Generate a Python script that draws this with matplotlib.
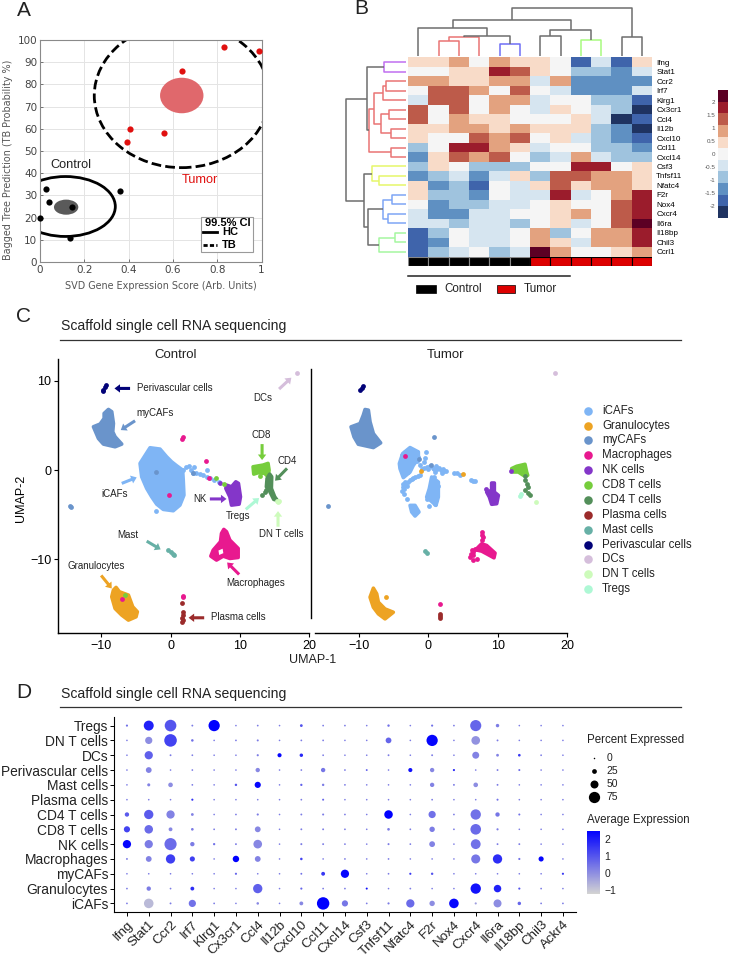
import numpy as np
import matplotlib
matplotlib.use("Agg")
import matplotlib.pyplot as plt
from matplotlib.colors import ListedColormap, BoundaryNorm, LinearSegmentedColormap
from matplotlib.patches import Ellipse, FancyArrowPatch, Rectangle

plt.rcParams["font.family"] = ["Liberation Sans", "DejaVu Sans"]

W, H = 729, 957

# ---- panel A
ctrl_x = [0, 0.025, 0.04, 0.145, 0.135, 0.362]
ctrl_y = [20, 33, 27, 25, 11, 32]
tumor_x = [0.395, 0.405, 0.56, 0.64, 0.83, 0.99]
tumor_y = [54, 60, 58, 86, 97, 95]

# ---- panel B
heat_genes = ["Ifng", "Stat1", "Ccr2", "Irf7", "Klrg1", "Cx3cr1", "Ccl4", "Il12b", "Cxcl10", "Ccl11", "Cxcl14",
              "Csf3", "Tnfsf11", "Nfatc4", "F2r", "Nox4", "Cxcr4", "Il6ra", "Il18bp", "Chil3", "Ccrl1"]
heat_vals = [
    [1, 1, 2, 0, 2, 1, 1, 0, -4, -1, -4, 1],
    [0, 0, 1, 1, 4, 3, 1, 0, -2, -2, -3, -1],
    [2, 2, 1, 1, 2, 2, -1, 2, -3, -3, -3, -3],
    [0, 3, 3, 2, 0, 3, 0, -1, -3, -3, -3, -1],
    [-1, 3, 3, 0, 2, 2, -1, 0, 0, -2, -2, -4],
    [3, 0, 3, 0, 2, 0, -1, 1, 0, -1, -2, -5],
    [3, 0, 2, 1, 1, 0, 0, 0, 1, -1, -5, -4],
    [1, 1, 2, 2, 1, 2, 1, 1, 1, -2, -3, -5],
    [1, 0, 0, 3, 2, 3, 0, 1, -1, -2, -3, -4],
    [-2, 0, 4, 4, 2, 1, -1, 0, 0, -2, -2, -3],
    [-3, 1, 3, 2, 3, 0, -2, -1, 2, -1, -2, -2],
    [-2, 1, 0, -2, -2, -2, 0, 0, 4, 4, 0, 1],
    [-3, -2, -1, -3, -1, 1, -2, 3, 3, 2, 2, 1],
    [1, -3, -2, -4, 0, -1, 1, 3, 1, 2, 2, 1],
    [1, -2, -2, -3, 0, -1, -1, 4, -1, 0, 2, 4],
    [0, -3, -2, -2, -1, -1, 0, 1, 0, 0, 3, 4],
    [-1, -3, -3, -1, -1, 0, 0, 1, 2, 0, 3, 4],
    [-1, -1, -2, -1, -1, -2, 0, 1, -1, 0, 3, 5],
    [-4, -2, 0, -1, -1, 0, 2, -2, 0, 2, 2, 4],
    [-4, -3, 0, -1, -1, 0, 2, 1, -1, 2, 2, 4],
    [-4, -2, -1, 0, -2, -1, 5, 2, 0, 0, 1, 2],
]
heat_colors = ["#1f3361", "#3f64ab", "#5f90c2", "#9fc3de", "#d6e5f0", "#f5f5f5",
               "#f8dbc8", "#e3a27f", "#bd5b4a", "#9b1c2c", "#5c0024"]
heat_groups = [0, 0, 0, 0, 0, 0, 1, 1, 1, 1, 1, 1]
cbar_ticks = [-2, -1.5, -1, -0.5, 0, 0.5, 1, 1.5, 2]

GREY, RED, BLUE, LIME = "#6e6e6e", "#e97474", "#6f6ff5", "#a8fb80"
PURP, YEL, LBLUE, LGRN = "#c06ff0", "#e6f76a", "#7fa6f5", "#a5f7a0"
# dendrogram merges: (pos a, pos b, height a, height b, merge height, colour)
top_merges = [
    (1, 2, 0, 0, 15, RED), (1.5, 3, 15, 0, 19, RED), (4, 5, 0, 0, 12, BLUE),
    (2.25, 4.5, 19, 12, 20, GREY), (0, 3.4, 0, 20, 28, GREY), (6, 7, 0, 0, 20, GREY),
    (8, 9, 0, 0, 16, LIME), (6.5, 8.5, 20, 16, 26, GREY), (1.7, 7.5, 28, 26, 36, GREY),
    (10, 11, 0, 0, 19, GREY), (4.6, 10.5, 36, 19, 48, GREY),
]
left_merges = [
    (0, 1, 0, 0, 22, PURP), (2, 3, 0, 0, 20, RED), (2.5, 4, 20, 0, 23, RED), (5, 6, 0, 0, 17, RED),
    (7, 8, 0, 0, 15, RED), (5.5, 7.5, 17, 15, 25, RED), (3.25, 6.5, 23, 25, 32, RED), (9, 10, 0, 0, 15, RED),
    (4.9, 9.5, 32, 15, 37, RED), (12, 13, 0, 0, 27, YEL), (11, 12.5, 0, 27, 34, YEL), (14, 15, 0, 0, 14, LBLUE),
    (16, 17, 0, 0, 18, LBLUE), (14.5, 16.5, 14, 18, 23, LBLUE), (18, 19, 0, 0, 11, LGRN), (18.5, 20, 11, 0, 27, LGRN),
    (15.5, 19.25, 23, 27, 38, GREY), (11.75, 17.4, 34, 38, 42, GREY), (0.5, 7.2, 22, 37, 39, GREY),
    (3.85, 14.6, 39, 42, 60, GREY),
]

# ---- panel C
cell_types = ["iCAFs", "Granulocytes", "myCAFs", "Macrophages", "NK cells", "CD8 T cells", "CD4 T cells",
              "Plasma cells", "Mast cells", "Perivascular cells", "DCs", "DN T cells", "Tregs"]
cell_colors = {"iCAFs": "#7fb5f5", "Granulocytes": "#eda323", "myCAFs": "#6a94cb", "Macrophages": "#e8198f",
               "NK cells": "#8436c9", "CD8 T cells": "#76cd3c", "CD4 T cells": "#538f5a", "Plasma cells": "#9b2b2b",
               "Mast cells": "#67b0a6", "Perivascular cells": "#020278", "DCs": "#d5bedb", "DN T cells": "#cdfbbb",
               "Tregs": "#aef8d5"}

# control cluster outlines, read in UMAP units
ctrl_blobs = {
    "iCAFs": ([-2.97, -4.41, -4.17, -3.45, -2.73, -2.01, -1.06, 0.38, 1.34, 1.92, 1.82, 1.73, 0.86, 0.14, -0.58, -1.53],
              [2.5, 0.75, -0.75, -2.05, -2.99, -3.81, -4.40, -4.55, -3.92, -2.8, -1.12, 0, 0.49, 0.93, 1.49, 2.35]),
    "myCAFs": ([-8.97, -8.49, -8.25, -8.35, -8.01, -7.05, -8.01, -9.69, -10.41, -11.13, -10.17, -9.59, -9.59],
               [6.79, 6.53, 5.22, 4.29, 3.73, 2.91, 2.61, 2.91, 3.54, 4.85, 5.15, 5.78, 6.34]),
    "Macrophages": ([7.67, 8.06, 8.54, 9.74, 9.74, 8.54, 7.58, 6.62, 5.80, 6.14, 7.19, 7.34],
                    [-6.64, -6.90, -7.84, -8.77, -9.78, -9.89, -9.63, -10.07, -9.63, -8.96, -8.02, -7.09]),
    "Granulocytes": ([-7.87, -7.39, -6.09, -5.47, -4.80, -4.99, -6.09, -7.05, -8.01, -8.49, -8.25],
                     [-13.13, -13.62, -13.99, -15.30, -15.86, -16.42, -16.79, -16.23, -15.49, -14.18, -13.43]),
    "NK cells": ([9.40, 9.78, 10.07, 9.88, 8.78, 8.54, 7.96, 8.06, 8.78],
                 [-1.31, -1.49, -2.99, -3.81, -3.92, -2.99, -2.05, -1.68, -1.87]),
    "CD8 T cells": ([11.89, 13.33, 14.05, 14.20, 14.05, 13.57, 12.61, 11.99],
                    [0.37, 0.56, 0.75, 0, -0.75, -0.37, -0.30, -0.45]),
    "CD4 T cells": ([14.29, 14.58, 14.53, 15.01, 15.35, 14.87, 14.2, 13.81, 13.91],
                    [-0.45, -0.75, -2.05, -2.99, -3.36, -3.28, -2.24, -1.87, -0.93]),
}
ctrl_points = [
    ("iCAFs", [1.8, 2.2, 2.6, 3.2, 3.7, 4.2, 4.7, 5.2, 5.7, 6.2, 7.0, 3.3, 3.0, 5.18, -2.16, -1.77],
     [0.0, 0.3, 0.5, -0.3, -0.35, -0.45, -0.6, -0.75, -0.9, -1.1, -1.3, 0.4, 0.0, 0.0, -4.6, -3.66]),
    ("myCAFs", [-14.5, -14.4, -2.1, 3.17], [-4.03, -4.15, -0.2, -0.3]),
    ("Macrophages", [1.73, 1.7, 5.04, 5.47, -0.19, 1.82, 1.77, -7.05], [3.75, 3.5, 1.04, -0.9, -2.84, -14.1, -14.25, -14.44]),
    ("NK cells", [7.05], [-1.42]),
    ("CD8 T cells", [6.52, 7.72, 12.85, -6.57], [-0.93, -1.53, -0.63, -13.99]),
    ("CD4 T cells", [13.19, 13.57, 13.81], [-2.84, -2.43, -2.24]),
    ("DN T cells", [15.3, 15.5, 15.7], [-3.5, -3.6, -3.5]),
    ("DCs", [18.2], [10.9]),
    ("Perivascular cells", [-9.3, -9.45, -9.7, -9.8], [9.5, 9.25, 8.95, 8.85]),
    ("Plasma cells", [1.73, 1.75, 1.7, 1.75, 1.7, 1.68], [-15.9, -16.2, -16.5, -16.8, -17.0, -14.85]),
    ("Mast cells", [-0.34, 0, 0.3, 0.48], [-8.96, -9.15, -9.4, -9.5]),
]
# (label, text x, text y, align, tail x, tail y, head x, head y, colour key)
ctrl_notes = [
    ("Perivascular cells", -4.8, 9.14, "left", -5.85, 9.14, -8.1, 9.14, "Perivascular cells"),
    ("myCAFs", -4.99, 6.42, "left", -5.13, 5.52, -7.19, 4.48, "myCAFs"),
    ("iCAFs", -8.01, -2.72, "center", -7.05, -1.49, -4.89, -0.82, "iCAFs"),
    ("DCs", 13.29, 8.1, "center", 15.64, 9.07, 17.41, 10.34, "DCs"),
    ("CD8", 13.05, 3.92, "center", 13.19, 2.91, 13.19, 1.12, "CD8 T cells"),
    ("CD4", 16.79, 1.04, "center", 16.79, 0.19, 15.06, -1.19, "CD4 T cells"),
    ("NK", 4.22, -3.23, "center", 5.66, -3.23, 8.06, -3.23, "NK cells"),
    ("Tregs", 9.74, -5.19, "center", 10.84, -4.4, 12.76, -3.13, "Tregs"),
    ("DN T cells", 15.92, -7.13, "center", 15.49, -6.34, 15.49, -4.59, "DN T cells"),
    ("Mast", -6.19, -7.28, "center", -3.45, -7.95, -1.44, -8.88, "Mast cells"),
    ("Macrophages", 12.23, -12.69, "center", 9.88, -11.68, 8.15, -10.34, "Macrophages"),
    ("Granulocytes", -10.74, -10.71, "center", -10.02, -11.79, -8.49, -13.25, "Granulocytes"),
    ("Plasma cells", 5.76, -16.42, "left", 4.84, -16.53, 2.59, -16.53, "Plasma cells"),
]

tumor_blobs = [
    ("myCAFs", [-9.13, -8.65, -8.41, -7.93, -6.88, -7.93, -10.1, -10.72, -11.15, -9.86, -9.38],
     [6.79, 6.72, 5.41, 4.10, 3.06, 2.54, 2.91, 3.73, 4.85, 5.22, 6.16]),
    ("CD8 T cells", [12.02, 12.74, 13.94, 14.18, 14.33, 13.7, 12.98, 12.26],
     [0.19, 0.45, 0.67, -0.19, -0.56, -0.56, -0.19, -0.19]),
    ("Granulocytes", [-7.93, -7.45, -7.21, -6.25, -5.05, -6.25, -7.21, -7.93, -8.41],
     [-13.17, -13.8, -14.74, -15.49, -15.86, -16.6, -16.04, -15.3, -14.18]),
    ("iCAFs", [-2.64, -1.44, -1.44, -2.16, -2.64, -3.61, -4.09, -4.18, -3.7],
     [2.54, 2.05, 1.31, 0.56, -0.19, -0.82, 0.19, 0.75, 1.87]),
    ("iCAFs", [-2.64, -1.92, -1.35, -1.92, -2.4], [-3.92, -3.92, -4.66, -5.11, -4.66]),
    ("iCAFs", [0.48, 1.44, 1.44, 1.1, -0.24, 0.14], [-0.75, -1.31, -2.99, -3.92, -2.99, -2.05]),
    ("NK cells", [9.13, 9.52, 9.52, 10.1, 9.86, 9.13, 8.8, 8.41, 9.13],
     [-1.42, -1.42, -2.43, -2.8, -3.73, -3.8, -2.99, -2.43, -2.24]),
    ("Macrophages", [7.69, 8.41, 9.62, 9.47, 8.41, 7.69, 6.83], [-8.21, -8.4, -9.25, -9.78, -9.33, -9.03, -8.88]),
]
tumor_icaf_x = [-2.64, -3.37, -3.85, -4.09, -3.61, -3.13, -2.40, -1.68, -1.44, -0.48, -0.38, -3.13, -2.40, -3.85, -3.37,
                -2.88, -3.61, -2.64, -1.92, -1.20, -3.4, -3.6, -2.9, -2.9, -3.1, -3.5, -3.2, -0.2, 0.3, 0.8, 1.3, 1.8, 2.3,
                2.6, 2.0, 0.9, 3.7, 4.2, 4.5, 6.1, 6.5, 6.7, -1.2, -1.9, -2.6, -3.37, -3.7, -3.46, -3.1, -2.2, -3.1, -3.6,
                0.8, 1.2, 0.95, 0.25, 0.7, 1.1, 0.95, -0.25, 0.15, 0.5,
                1.1, 1.4, -2.0, -1.6, -0.9, -0.6, -0.6, -0.1, 0.6, 1.1, 1.6, 2.1, -1.5, -2.4, -2.9, -3.3, -3.55, -3.75]
tumor_icaf_y = [2.35, 2.05, 1.68, 0.75, 1.31, 1.49, 1.87, 2.05, 1.49, 1.42, 2.05, 0.75, 0.93, 0.19, 0.19, -0.19, -0.37, 0.37,
                1.12, 0.56, 1.0, 0.5, 1.2, 0.4, -0.2, -0.1, 0.3, 0.4, 0.5, 0.1, 0.2, 0, -0.05, -0.1, -0.3, -0.2, -0.35, -0.3,
                -0.55, -1.1, -1.15, -1.15, -0.56, -0.75, -1.1, -1.3, -1.87, -2.6, -3.17, -0.9, -1.7, -1.5,
                -0.75, -1.5, -2.05, -2.2, -2.8, -3.35, -3.8, -3.2, -4, -2.4,
                -2.2, -1.7, 1.6, 1.0, 0.2, 0.9, 0.25, 0.2, 0.3, 0.45, 0.25, 0.1, -0.65, -1.0, -1.3, -1.6, -2.1, -2.3]
tumor_points = [
    ("iCAFs", tumor_icaf_x, tumor_icaf_y),
    ("myCAFs", [-1.35, 0.33, 0.82, -14.52], [1.3, 0.56, 3.73, -4.03]),
    ("Macrophages", [-3.3, 7.8, 7.8, 7.85, 6.5, 6.0, 6.5, 6.97, 7.2, 6.5, 6.15, 1.68, 6.3, 6.7, 7.8],
     [1.64, -6.9, -7.2, -7.5, -9.14, -9.7, -10.07, -9.89, -8.77, -9.5, -9.33, -14.89, -8.9, -8.8, -7.75]),
    ("Granulocytes", [-1.1, 5, -6.15], [-0.1, -0.45, -14.1]),
    ("NK cells", [8.3, 11.92], [-2.05, -0.07]),
    ("CD4 T cells", [13.94, 14.18, 14.38, 13.9, 14.42, 14.66, 13.95], [-1.12, -1.49, -1.87, -2.24, -2.54, -2.72, -0.6]),
    ("Tregs", [13.22, 13.3], [-2.84, -2.7]),
    ("DN T cells", [15.58], [-3.54]),
    ("DCs", [18.27], [10.86]),
    ("Perivascular cells", [-9.38, -9.62, -9.81], [9.44, 9.14, 8.92]),
    ("Plasma cells", [1.7, 1.75, 1.7], [-16, -16.3, -16.45]),
    ("Mast cells", [-0.48, -0.14], [-9.03, -9.2]),
]

# ---- panel D
dot_genes = ["Ifng", "Stat1", "Ccr2", "Irf7", "Klrg1", "Cx3cr1", "Ccl4", "Il12b", "Cxcl10", "Ccl11", "Cxcl14", "Csf3",
             "Tnfsf11", "Nfatc4", "F2r", "Nox4", "Cxcr4", "Il6ra", "Il18bp", "Chil3", "Ackr4"]
dot_rows = ["iCAFs", "Granulocytes", "myCAFs", "Macrophages", "NK cells", "CD8 T cells", "CD4 T cells", "Plasma cells",
            "Mast cells", "Perivascular cells", "DCs", "DN T cells", "Tregs"]
pct_icafs = [2, 62, 3, 44, 2, 1, 8, 1, 18, 84, 36, 2, 5, 52, 30, 62, 5, 50, 15, 2, 2]
exp_icafs = [0.3, -0.8, 0.3, 0.5, 0.3, 0.3, 0.1, 0.3, 0.1, 2.5, 0.4, 0.3, 0.3, 0.6, 0, 2.4, -0.3, 0, 0.7, 0.3, 0.3]
pct_gran = [2, 22, 2, 18, 1, 1, 60, 1, 5, 2, 2, 4, 1, 2, 1, 1, 68, 46, 5, 2, 1]
exp_gran = [0.3, 0.3, 0.3, 1.7, 0.3, 0.3, 0.8, 0.3, 0.7, 0.3, 0.3, 2.2, 0.3, 0.3, 0.3, 0.3, 2.2, 1.9, 1, 0.3, 0.3]
pct_mycaf = [1, 1, 1, 1, 1, 5, 1, 1, 3, 18, 52, 1, 2, 5, 7, 1, 1, 1, 1, 1, 5]
exp_mycaf = [0.3, 0.3, 0.3, 0.3, 0.3, 0.7, 0.3, 0.3, 0.5, 1.5, 2.4, 0.3, 0.3, 1.5, 1, 0.3, 0.3, 0.3, 0.3, 0.3, 1.5]
pct_macro = [3, 33, 60, 28, 1, 38, 33, 1, 8, 1, 2, 1, 2, 1, 1, 1, 58, 60, 5, 28, 1]
exp_macro = [0.3, 0.2, 1.4, 1.4, 0.3, 2.5, 0.2, 0.3, 1.3, 0.3, 0.3, 0.3, 0.3, 0.3, 0.3, 0.3, 0.4, 1.7, 0.5, 2.4, 0.3]
pct_nk = [52, 52, 82, 22, 6, 3, 55, 1, 4, 3, 2, 1, 4, 2, 33, 1, 64, 3, 3, 1, 1]
exp_nk = [2.4, 0.3, 0.6, 0.3, 0.5, 0.3, 0.1, 0.3, 0.3, 0.3, 0.3, 0.3, 0.3, 0.3, 0.2, 0.3, 0.5, 0.3, 0.3, 0.3, 0.3]
pct_cd8 = [36, 54, 18, 9, 2, 3, 33, 1, 3, 3, 2, 1, 9, 2, 30, 2, 70, 5, 1, 1, 1]
exp_cd8 = [1.3, 0.6, 0.1, 0.3, 0.3, 0.3, 0.1, 0.3, 0.3, 0.3, 0.3, 0.3, 0.3, 0.3, 0.3, 0.3, 0.6, 0.3, 0.3, 0.3, 0.3]
pct_cd4 = [22, 60, 52, 10, 1, 2, 5, 1, 3, 4, 2, 1, 54, 1, 44, 2, 68, 22, 4, 1, 1]
exp_cd4 = [0.9, 0.9, 0.2, 0.2, 0.3, 0.3, 0.3, 0.3, 0.3, 0.3, 0.3, 0.3, 2.5, 0.3, 0.5, 0.3, 0.5, 0.4, 0.5, 0.3, 0.3]
pct_plasma = [1, 1, 1, 5, 1, 1, 1, 1, 2, 4, 1, 1, 1, 1, 2, 1, 1, 4, 1, 1, 1]
exp_plasma = [0.3, 0.3, 0.3, 1.6, 0.3, 0.3, 0.3, 0.3, 0.3, 0.7, 0.3, 0.3, 0.3, 0.3, 0.3, 0.3, 0.3, 0.5, 0.3, 0.3, 0.3]
pct_mast = [1, 12, 24, 2, 1, 7, 36, 1, 6, 7, 2, 1, 1, 1, 22, 3, 24, 3, 1, 1, 1]
exp_mast = [0.3, 0.2, 0, 0.3, 0.3, 1, 2.4, 0.3, 0.8, 0.3, 0.3, 0.3, 0.3, 0.3, 0.2, 0.3, 0, 0.3, 0.3, 0.3, 0.3]
pct_periv = [1, 33, 1, 2, 1, 1, 22, 1, 2, 22, 2, 3, 1, 20, 22, 5, 1, 3, 4, 1, 1]
exp_periv = [0.3, 0.2, 0.3, 0.3, 0.3, 0.3, 0.1, 0.3, 0.3, 0.4, 0.3, 0.8, 0.3, 2.2, 0.1, 1.8, 0.3, 0.3, 0.6, 0.3, 0.3]
pct_dc = [1, 52, 3, 2, 1, 1, 5, 20, 15, 2, 1, 1, 3, 1, 3, 1, 42, 10, 9, 2, 1]
exp_dc = [0.3, 0.8, 0.3, 0.3, 0.3, 0.3, 0.3, 2.4, 1.8, 0.3, 0.3, 0.3, 0.3, 0.3, 0.3, 0.3, 0.2, 0.2, 1.5, 0.3, 0.3]
pct_dnt = [1, 44, 85, 8, 1, 2, 4, 1, 2, 2, 1, 1, 33, 1, 75, 1, 55, 3, 1, 1, 1]
exp_dnt = [0.3, 0, 1.3, 0.5, 0.3, 0.3, 0.3, 0.3, 0.3, 0.3, 0.3, 0.3, 0.7, 0.3, 2.4, 0.3, -0.1, 0.3, 0.3, 0.3, 0.3]
pct_treg = [5, 65, 78, 3, 75, 1, 2, 1, 10, 2, 2, 1, 7, 1, 5, 2, 74, 15, 1, 1, 1]
exp_treg = [0.5, 1.9, 1, 0.3, 2.5, 0.3, 0.3, 0.3, 1, 0.3, 0.3, 0.3, 0.5, 0.3, 0.5, 0.3, 0.7, 0.3, 0.3, 0.3, 0.3]
dot_pct = [pct_icafs, pct_gran, pct_mycaf, pct_macro, pct_nk, pct_cd8, pct_cd4, pct_plasma, pct_mast, pct_periv, pct_dc,
           pct_dnt, pct_treg]
dot_exp = [exp_icafs, exp_gran, exp_mycaf, exp_macro, exp_nk, exp_cd8, exp_cd4, exp_plasma, exp_mast, exp_periv, exp_dc,
           exp_dnt, exp_treg]
legend_pct = [0, 25, 50, 75]


def px_axes(fig, left, top, right, bottom, **kw):
    return fig.add_axes([left / W, 1 - bottom / H, (right - left) / W, (bottom - top) / H], **kw)


def dot_size(pct):
    # seurat style radius scale, from pixels across to points squared
    return ((1.5 + 0.13 * np.asarray(pct, dtype=float)) * 0.72) ** 2


def draw_dendro(ax, merges, vertical=True):
    for a, b, ha, hb, h, col in merges:
        xs = [a, a, b, b]
        ys = [ha, h, h, hb]
        if vertical:
            ax.plot(xs, ys, color=col, lw=1.1, solid_capstyle="butt")
        else:
            ax.plot(ys, xs, color=col, lw=1.1, solid_capstyle="butt")
    ax.axis("off")


def draw_umap(ax, blobs, points):
    for name, bx, by in blobs:
        ax.fill(bx, by, color=cell_colors[name], lw=2.6, joinstyle="round", zorder=2)
    for name, px, py in points:
        ax.scatter(px, py, s=12, color=cell_colors[name], lw=0, zorder=3)
    ax.set_ylim(-18.2, 12.4)
    ax.set_xticks([-10, 0, 10, 20])
    ax.set_xticklabels(["\u221210", "0", "10", "20"], fontsize=9)
    ax.tick_params(length=3, width=0.8, pad=2)
    for s in ["top", "right"]:
        ax.spines[s].set_visible(False)


fig = plt.figure(figsize=(W / 100, H / 100), dpi=100)
ov = fig.add_axes([0, 0, 1, 1], zorder=5)
ov.set_xlim(0, W)
ov.set_ylim(H, 0)
ov.axis("off")
ov.patch.set_alpha(0)

for lab, lx, ly in [("A", 17, 10), ("B", 354, 9), ("C", 16, 316), ("D", 16, 692)]:
    ov.text(lx, ly, lab, fontsize=15, va="center", ha="left", color="#222222")

# ---- A
axA = px_axes(fig, 40, 40, 261.5, 262)
axA.grid(color="#e4e4e4", lw=0.7)
axA.set_axisbelow(True)
axA.add_patch(Ellipse((0.64, 75), 0.196, 16, color="#e0686c", lw=0))
axA.add_patch(Ellipse((0.118, 24.7), 0.11, 6.8, color="#5a5a5a", lw=0))
axA.add_patch(Ellipse((0.64, 75), 0.79, 65, fill=False, ec="black", lw=2, ls=(0, (3.5, 1.5))))
axA.add_patch(Ellipse((0.115, 25), 0.45, 27, fill=False, ec="black", lw=2))
axA.scatter(ctrl_x, ctrl_y, s=20, color="black", lw=0, clip_on=False, zorder=4)
axA.scatter(tumor_x, tumor_y, s=20, color="#e0100f", lw=0, clip_on=False, zorder=4)
axA.set_xlim(0, 1)
axA.set_ylim(0, 100)
axA.set_xticks([0, 0.2, 0.4, 0.6, 0.8, 1])
axA.set_xticklabels(["0", "0.2", "0.4", "0.6", "0.8", "1"])
axA.set_yticks(range(0, 101, 10))
axA.tick_params(labelsize=7.5, colors="#444444", length=2, width=0.5, pad=2, direction="in",
                labelfontfamily="DejaVu Sans")
axA.set_xlabel("SVD Gene Expression Score (Arb. Units)", fontsize=6.9, color="#555555", family="DejaVu Sans")
axA.xaxis.set_label_coords(0.545, -0.085)
axA.set_ylabel("Bagged Tree Prediction (TB Probability %)", fontsize=6.9, color="#555555", family="DejaVu Sans")
axA.yaxis.set_label_coords(-0.122, 0.46)
for s in axA.spines.values():
    s.set_color("#8a8a8a")
    s.set_linewidth(0.8)
axA.text(0.046, 43.5, "Control", fontsize=9.2, va="center", color="#222222")
axA.text(0.64, 37, "Tumor", fontsize=9.2, va="center", color="#e0100f")
ov.add_patch(Rectangle((201, 217), 52.5, 35, fc="white", ec="#9a9a9a", lw=0.8))
ov.text(205, 223, "99.5% CI", fontsize=8, fontweight="bold", va="center")
ov.plot([203, 217], [232, 232], color="black", lw=2)
ov.text(222, 232, "HC", fontsize=8, fontweight="bold", va="center")
ov.plot([203, 217], [245, 245], color="black", lw=2, ls=(0, (1.5, 0.8)))
ov.text(222, 245, "TB", fontsize=8, fontweight="bold", va="center")

# ---- B
vals = np.array(heat_vals)
axB = px_axes(fig, 408, 57.3, 652, 256.7)
cmap = ListedColormap(heat_colors)
norm = BoundaryNorm(np.arange(-5.5, 6.5), cmap.N)
axB.pcolormesh(vals, cmap=cmap, norm=norm, lw=0)
axB.set_ylim(len(heat_genes), 0)
axB.set_xticks([])
axB.yaxis.tick_right()
axB.set_yticks(np.arange(len(heat_genes)) + 0.5)
axB.set_yticklabels(heat_genes, fontsize=5.8)
axB.tick_params(length=0, pad=3)
for s in axB.spines.values():
    s.set_visible(False)

axTop = px_axes(fig, 408, 5, 652, 56)
draw_dendro(axTop, top_merges)
axTop.set_xlim(-0.5, 11.5)
axTop.set_ylim(0, 51)
axLeft = px_axes(fig, 345, 57.3, 406, 256.7)
draw_dendro(axLeft, left_merges, vertical=False)
axLeft.set_ylim(20.5, -0.5)
axLeft.set_xlim(61, 0)

axBar = px_axes(fig, 408, 257.3, 652, 266)
for i, g in enumerate(heat_groups):
    axBar.bar(i + 0.5, 1, 1, color="#dd0000" if g else "black", edgecolor="black" if g else "#888888", lw=0.8)
axBar.set_xlim(0, 12)
axBar.set_ylim(0, 1)
axBar.axis("off")

ov.plot([408, 570.5], [275.7, 275.7], color="#222222", lw=1.1)
ov.add_patch(Rectangle((416.5, 284.5), 19.5, 8.5, fc="black", ec="black", lw=0.5))
ov.text(444, 288.5, "Control", fontsize=8.4, va="center", color="#222222")
ov.add_patch(Rectangle((497.5, 284.5), 18, 8.5, fc="#dd0000", ec="black", lw=0.5))
ov.text(524, 288.5, "Tumor", fontsize=8.4, va="center", color="#222222")

cb = px_axes(fig, 718, 90, 727.7, 218)
bounds = np.linspace(-2.46, 2.46, 12)
cb.pcolormesh([0, 1], bounds, np.arange(11).reshape(-1, 1), cmap=cmap, lw=0)
cb.set_xticks([])
cb.set_yticks(cbar_ticks)
cb.set_yticklabels([("%g" % t) for t in cbar_ticks], fontsize=4.5, color="#555555")
cb.tick_params(length=0, pad=2)
for s in cb.spines.values():
    s.set_visible(False)

# ---- C
for y_t, y_l in [(326, 339.5), (694, 706.7)]:
    ov.text(61, y_t, "Scaffold single cell RNA sequencing", fontsize=10.1, va="center", color="#222222")
    ov.plot([60, 681], [y_l, y_l], color="#333333", lw=0.9)

axC1 = px_axes(fig, 58.3, 359.3, 309.3, 632.7)
axC1.set_xlim(-16.2, 20)
draw_umap(axC1, [(k, v[0], v[1]) for k, v in ctrl_blobs.items()], ctrl_points)
axC1.fill([6.9, 7.5, 7.6, 7.0], [-9.0, -8.8, -9.3, -9.5], color="white", lw=0, zorder=3)
axC1.set_yticks([-10, 0, 10])
axC1.set_yticklabels(["\u221210", "0", "10"], fontsize=9)
axC1.set_ylabel("UMAP-2", fontsize=9)
axC1.yaxis.set_label_coords(-0.125, 0.493)
axC1.spines["left"].set_linewidth(1)
axC1.spines["bottom"].set_linewidth(1)

for lab, tx, ty, ha, x0, y0, x1, y1, key in ctrl_notes:
    axC1.text(tx, ty, lab, fontsize=7.0, ha=ha, va="center", color="#222222", zorder=5)
    axC1.add_patch(FancyArrowPatch((x0, y0), (x1, y1), arrowstyle="simple,tail_width=2.2,head_width=6,head_length=4",
                                   color=cell_colors[key], lw=0, shrinkA=0, shrinkB=0, mutation_scale=1, zorder=4))

axC2 = px_axes(fig, 315, 359.3, 567, 633.2)
axC2.set_xlim(-16.35, 20)
draw_umap(axC2, tumor_blobs, tumor_points)
axC2.set_yticks([])
axC2.spines["left"].set_visible(False)
axC2.spines["bottom"].set_linewidth(1)
ov.plot([311.5, 311.5], [369, 618], color="black", lw=1)

ov.text(175.5, 355, "Control", fontsize=9.5, ha="center", va="center", color="#222222")
ov.text(446, 355, "Tumor", fontsize=9.5, ha="center", va="center", color="#222222")
ov.text(313, 660, "UMAP-1", fontsize=9, ha="center", va="center", color="#222222")

for i, name in enumerate(cell_types):
    yy = 410.7 + 14.87 * i
    ov.scatter([588], [yy], s=38, color=cell_colors[name], lw=0)
    ov.text(602, yy, name, fontsize=8.3, va="center", color="#222222")

# ---- D
axD = px_axes(fig, 114.3, 716.7, 576, 912.3)
gx, gy = np.meshgrid(np.arange(len(dot_genes)), np.arange(len(dot_rows)))
dot_cmap = LinearSegmentedColormap.from_list("dots", ["#d3d3d3", "#0000ff"])
axD.scatter(gx.ravel(), gy.ravel(), s=dot_size(np.array(dot_pct).ravel()), c=np.array(dot_exp).ravel(),
            cmap=dot_cmap, vmin=-1.25, vmax=2.5, lw=0, zorder=3)
axD.set_xlim(-0.58, 20.6)
axD.set_ylim(-0.6, 12.6)
axD.set_xticks(range(len(dot_genes)))
axD.set_xticklabels(dot_genes, rotation=45, ha="right", rotation_mode="anchor", fontsize=9.6, color="#222222")
axD.set_yticks(range(len(dot_rows)))
axD.set_yticklabels(dot_rows, fontsize=9.9, color="#222222")
axD.tick_params(length=3, width=0.7, pad=1.5)
for s in ["top", "right"]:
    axD.spines[s].set_visible(False)

ov.text(587, 740, "Percent Expressed", fontsize=8.3, va="center", color="#222222")
for i, p in enumerate(legend_pct):
    yy = 757.7 + 13 * i
    ov.scatter([594], [yy], s=dot_size(p), color="black", lw=0)
    ov.text(606.7, yy, str(p), fontsize=7.5, va="center", color="#222222")
ov.text(587, 820, "Average Expression", fontsize=8.3, va="center", color="#222222")

cb2 = px_axes(fig, 587, 830.7, 600, 894.3)
cb2.imshow(np.linspace(2.5, -1.25, 64).reshape(-1, 1), cmap=dot_cmap, aspect="auto", extent=[0, 1, -1.25, 2.5])
cb2.set_xticks([])
cb2.yaxis.tick_right()
cb2.set_yticks([-1, 0, 1, 2])
cb2.set_yticklabels(["\u22121", "0", "1", "2"], fontsize=7.5, color="#222222")
cb2.tick_params(length=0, pad=3)
for s in cb2.spines.values():
    s.set_visible(False)

fig.savefig("out.png", dpi=100)
